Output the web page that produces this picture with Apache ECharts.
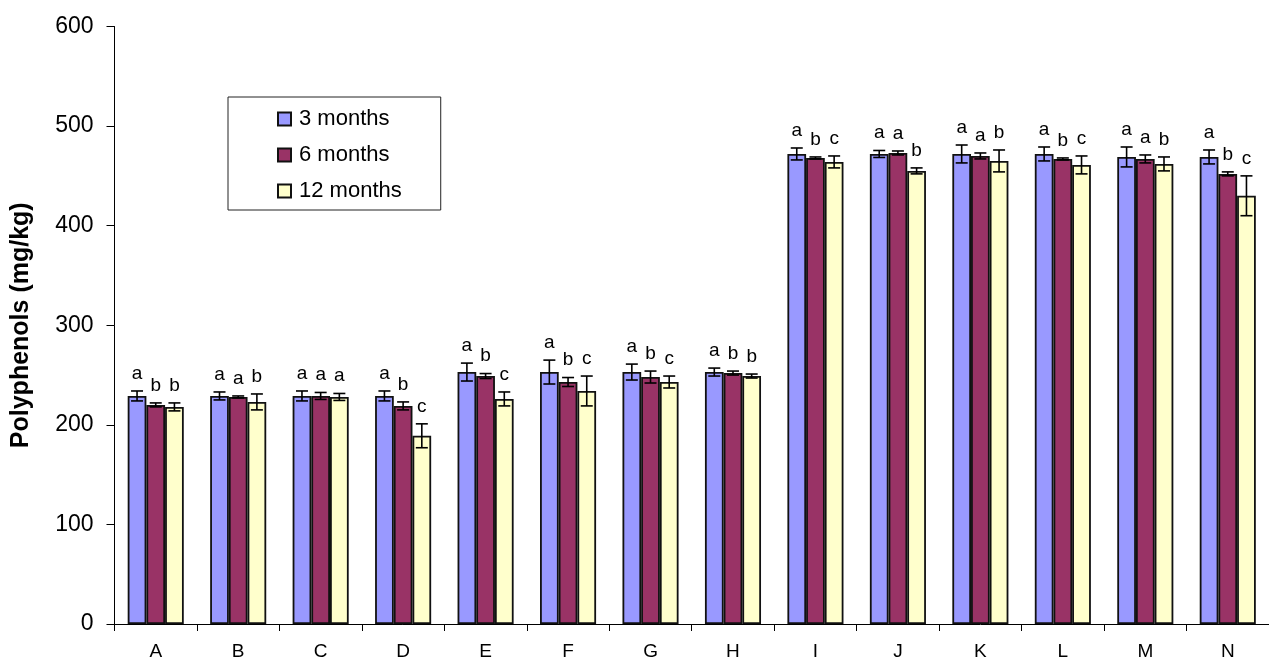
<!DOCTYPE html>
<html>
<head>
<meta charset="utf-8">
<script src="https://cdn.jsdelivr.net/npm/echarts@6/dist/echarts.min.js"></script>
<style>
  html, body { margin: 0; padding: 0; background: #fff; }
  #chart { width: 1269px; height: 661px; }
</style>
</head>
<body>
<div id="chart"></div>
<script>
// Sample groups
const categories = ['A','B','C','D','E','F','G','H','I','J','K','L','M','N'];
const seriesNames = ['3 months', '6 months', '12 months'];

// Mean polyphenol content (mg/kg)
const months3  = [229, 229, 229, 229, 253, 253, 253, 253, 472, 472, 472, 472, 469, 469];
const months6  = [220, 228, 229, 219, 249, 243, 248, 252, 468, 473, 470, 467, 467, 452];
const months12 = [218, 223, 228, 189, 226, 234, 243, 249, 464, 455, 465, 461, 462, 430];

// Standard deviations
const err3  = [5, 4, 5, 5, 9, 12, 8, 4, 6, 3.5, 9, 7, 10, 7];
const err6  = [2, 1, 3.5, 4, 2.5, 4.5, 6, 2, 1, 2, 3, 1, 4, 2];
const err12 = [4, 8, 3.5, 12, 7, 15, 6, 2, 6, 3, 11, 9, 7, 20];

// Significance letters
const letters3  = ['a','a','a','a','a','a','a','a','a','a','a','a','a','a'];
const letters6  = ['b','a','a','b','b','b','b','b','b','a','a','b','a','b'];
const letters12 = ['b','b','a','c','c','c','c','b','c','b','b','c','b','c'];

const yTicks = [0, 100, 200, 300, 400, 500, 600];

const values = [months3, months6, months12];
const errors = [err3, err6, err12];
const letters = [letters3, letters6, letters12];
const colors = ['#9999FF', '#993366', '#FFFFCC'];

const FONT = "'Liberation Sans', Arial, sans-serif";
const CATEGORY_GAP = 0.32;

const chart = echarts.init(document.getElementById('chart'), null, { renderer: 'canvas' });

const barSeries = seriesNames.map((name, k) => ({
  name: name,
  type: 'bar',
  data: values[k],
  barGap: '0%',
  barCategoryGap: (CATEGORY_GAP * 100) + '%',
  itemStyle: { color: colors[k], borderColor: '#111', borderWidth: 1.8 },
  emphasis: { disabled: true },
  z: 2
}));

// Error bars with significance letters, one custom series per period
const errorSeries = seriesNames.map((name, k) => ({
  type: 'custom',
  name: name + ' error',
  data: values[k].map((v, i) => [i, v, errors[k][i], letters[k][i]]),
  encode: { x: 0, y: 1 },
  z: 5,
  silent: true,
  renderItem: function (params, api) {
    const i = api.value(0);
    const v = api.value(1);
    const e = api.value(2);
    const band = api.size([1, 0])[0];
    const bw = band * (1 - CATEGORY_GAP) / 3;
    const cx = api.coord([i, v])[0] + (k - 1) * bw;
    const yHi = api.coord([i, v + e])[1];
    const yLo = api.coord([i, v - e])[1];
    const cap = 6;
    const style = { stroke: '#000', lineWidth: 1.6 };
    return {
      type: 'group',
      children: [
        { type: 'line', shape: { x1: cx, y1: yHi, x2: cx, y2: yLo }, style: style },
        { type: 'line', shape: { x1: cx - cap, y1: yHi, x2: cx + cap, y2: yHi }, style: style },
        { type: 'line', shape: { x1: cx - cap, y1: yLo, x2: cx + cap, y2: yLo }, style: style },
        {
          type: 'text',
          x: cx, y: yHi - 8,
          style: {
            text: api.value(3),
            fill: '#000',
            font: '19px ' + FONT,
            textAlign: 'center',
            textVerticalAlign: 'bottom'
          }
        }
      ]
    };
  }
}));

chart.setOption({
  animation: false,
  backgroundColor: '#fff',
  grid: { left: 114.5, right: -10, top: 26.5, bottom: 36.5, containLabel: false },
  legend: {
    data: seriesNames,
    orient: 'vertical',
    left: 228,
    top: 97,
    padding: [11, 39, 8, 49],
    itemGap: 14,
    itemWidth: 13,
    itemHeight: 13,
    icon: 'rect',
    borderColor: '#222',
    borderWidth: 1,
    backgroundColor: '#fff',
    selectedMode: false,
    textStyle: { fontFamily: FONT, fontSize: 22, color: '#000', padding: [0, 0, 0, 3] }
  },
  xAxis: {
    type: 'category',
    data: categories,
    axisLine: { lineStyle: { color: '#000', width: 1 } },
    axisTick: { show: true, length: 7, lineStyle: { color: '#000' } },
    axisLabel: { color: '#000', fontFamily: FONT, fontSize: 19, margin: 18 }
  },
  yAxis: {
    type: 'value',
    min: yTicks[0],
    max: yTicks[yTicks.length - 1],
    interval: yTicks[1] - yTicks[0],
    name: 'Polyphenols (mg/kg)',
    nameLocation: 'middle',
    nameGap: 81,
    nameTextStyle: { fontFamily: FONT, fontSize: 25, fontWeight: 'bold', color: '#000' },
    axisLine: { show: true, lineStyle: { color: '#000', width: 1 } },
    axisTick: { show: true, length: 8, lineStyle: { color: '#000' } },
    axisLabel: { color: '#000', fontFamily: FONT, fontSize: 23, margin: 21 },
    splitLine: { show: false }
  },
  series: barSeries.concat(errorSeries)
});
</script>
</body>
</html>
